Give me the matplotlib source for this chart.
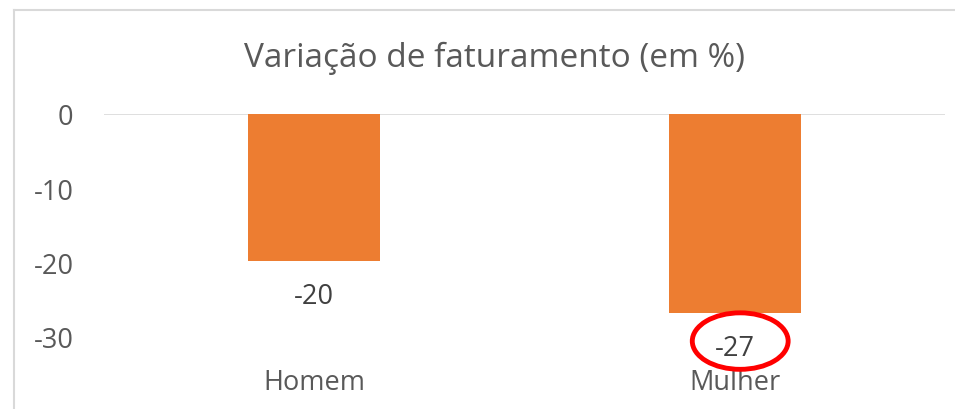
import matplotlib.pyplot as plt
from matplotlib.patches import Ellipse
from matplotlib.lines import Line2D

# dados
categorias = ['Homem', 'Mulher']
variacao = [-19.8, -26.8]
rotulos = ['-20', '-27']
yticks = [0, -10, -20, -30]

plt.rcParams['font.family'] = ['Open Sans', 'DejaVu Sans']

fig = plt.figure(figsize=(9.55, 4.10), dpi=100)
ax = fig.add_axes([104/955, 1 - 338/410, (945 - 104)/955, (338 - 115)/410])

x = range(len(categorias))
ax.bar(x, variacao, width=0.314, color='#ED7D31', zorder=2)

ax.set_xlim(-0.5, 1.5)
ax.set_ylim(-30, 0)
ax.set_yticks(yticks)
ax.set_yticklabels([str(t) for t in yticks], fontsize=19.5, color='#595959')
ax.set_xticks(list(x))
ax.set_xticklabels(categorias, fontsize=19.5, color='#595959')
ax.tick_params(axis='y', length=0, pad=22)
ax.tick_params(axis='x', length=0, pad=22)
for s in ax.spines.values():
    s.set_visible(False)
ax.axhline(0, color='#D9D9D9', lw=1.2, zorder=1)

# rótulos de dados
for xi, v, r in zip(x, variacao, rotulos):
    ax.annotate(r, (xi, v), xytext=(0, -25), textcoords='offset points',
                ha='center', va='center', fontsize=19.5, color='#404040',
                annotation_clip=False)

# destaque em vermelho
ax.add_patch(Ellipse((1.013, -30.55), 0.228, 7.6, fill=False,
                     edgecolor='#FF0000', lw=3.5, clip_on=False, zorder=5))

fig.text(0.5 + (494 - 477.5)/955, 1 - 58/410, 'Variação de faturamento (em %)',
         ha='center', va='center', fontsize=24, color='#595959')

# borda do gráfico
fig.add_artist(Line2D([14/955, 14/955], [0, 1 - 11/410], color='#D9D9D9', lw=1.5))
fig.add_artist(Line2D([14/955, 1], [1 - 11/410, 1 - 11/410], color='#D9D9D9', lw=1.5))

fig.savefig('out.png', dpi=100)
